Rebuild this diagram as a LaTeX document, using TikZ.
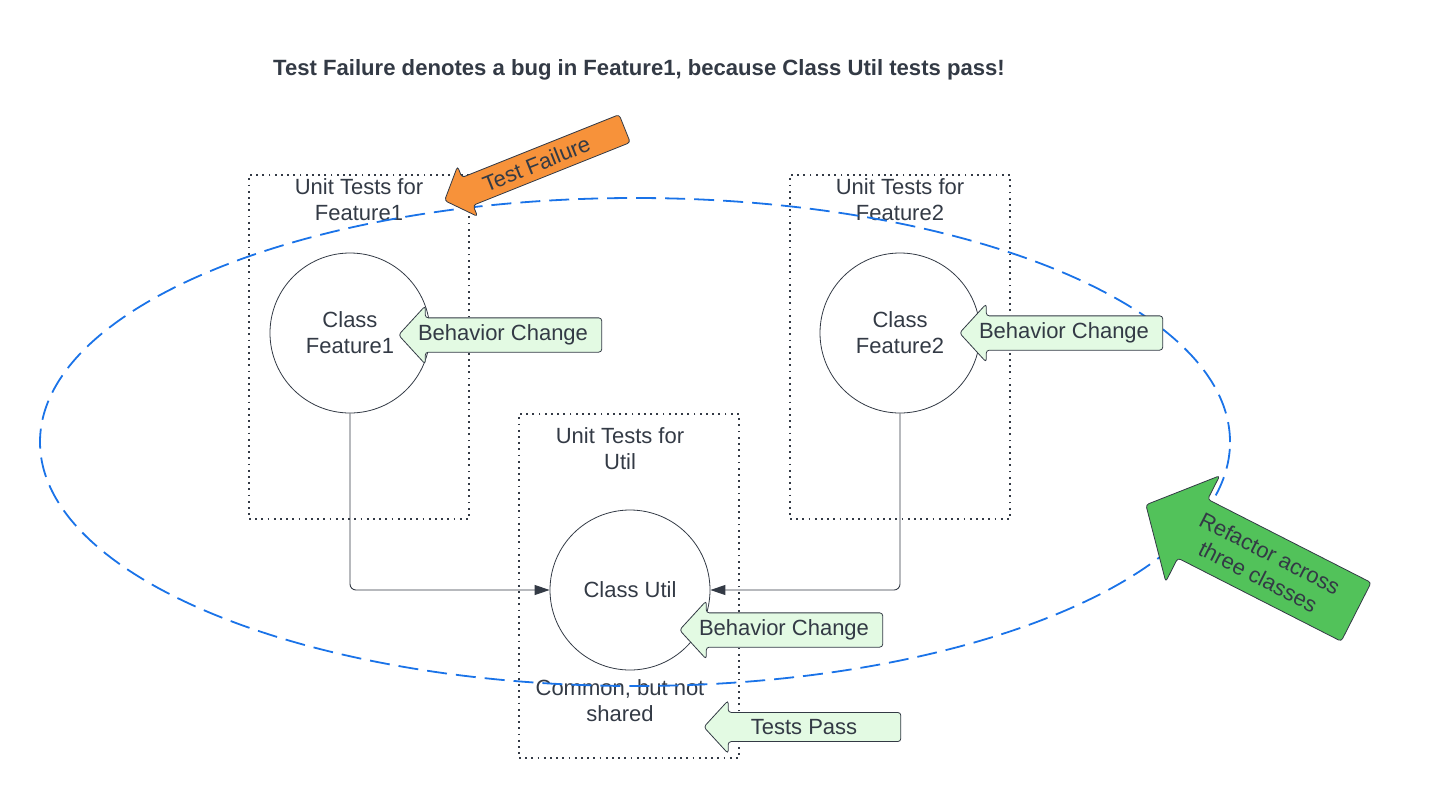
\documentclass[tikz,border=0pt]{standalone}
\usepackage{fontspec}
\setmainfont{Liberation Sans}
\usetikzlibrary{positioning, arrows.meta, shapes.arrows}

\definecolor{inkgray}{HTML}{333A45}
\definecolor{ringblue}{HTML}{1A73E8}
\definecolor{paleGreen}{HTML}{E3FAE3}
\definecolor{failOrange}{HTML}{F7923A}
\definecolor{refGreen}{HTML}{52C25A}

\begin{document}
\begin{tikzpicture}[
  x=1pt, y=-1pt,
  font=\fontsize{22}{26}\selectfont,
  text=inkgray,
  testbox/.style={draw=inkgray, line width=1.8pt, dash pattern=on 1.8pt off 4.4pt, minimum width=220pt, minimum height=344pt},
  classnode/.style={circle, draw=inkgray, line width=0.8pt, minimum size=160pt, inner sep=0pt, align=center},
  boxlabel/.style={align=center},
  link/.style={draw=inkgray, line width=0.9pt, rounded corners=6pt, -{Triangle[length=15pt, width=10pt]}},
  callout/.style={single arrow, shape border rotate=180, draw=inkgray, line width=0.8pt, rounded corners=3pt,
    single arrow head extend=12pt, single arrow tip angle=95, inner ysep=6.5pt, minimum height=197pt},
  ring/.style={draw=ringblue, line width=1.8pt, dash pattern=on 20pt off 9pt}
]
\useasboundingbox (0,0) rectangle (1439,801);

%--------------------------------------
% Title
%--------------------------------------
\node[font=\fontsize{22.1}{26}\selectfont\bfseries] (title) at (639,70) {Test Failure denotes a bug in Feature1, because Class Util tests pass!};

%--------------------------------------
% Unit test boxes
%--------------------------------------
\node[testbox] (box1) at (359,347) {};
\node[testbox] (box2) at (900,347) {};
\node[testbox] (box3) at (629,586) {};
\node[boxlabel, below=1pt of box1.north] (label1) {Unit Tests for\\Feature1};
\node[boxlabel, below=1pt of box2.north] (label2) {Unit Tests for\\Feature2};
\node[boxlabel, below=11pt of box3.north, xshift=-9pt] (label3) {Unit Tests for\\Util};

%--------------------------------------
% Classes
%--------------------------------------
\node[classnode] (feat1) at (350,333) {Class\\Feature1};
\node[classnode] (feat2) at (900,333) {Class\\Feature2};
\node[classnode] (util) at (630,590) {Class Util};
\node[boxlabel] (common) at (620,701) {Common, but not\\shared};

% Dependencies
\draw[link] (feat1.south) |- (util.west);
\draw[link] (feat2.south) |- (util.east);

%--------------------------------------
% Refactor scope
%--------------------------------------
\draw[ring] (635,442) ellipse [x radius=595pt, y radius=244pt];

%--------------------------------------
% Callouts (text padded on the tail side)
%--------------------------------------
\node[callout, fill=paleGreen] (change1) at (508,335) {Behavior Change\hspace*{10pt}};
\node[callout, fill=paleGreen] (change2) at (1069,333) {Behavior Change\hspace*{10pt}};
\node[callout, fill=paleGreen] (change3) at (789,630) {Behavior Change\hspace*{10pt}};
\node[callout, fill=paleGreen] (pass) at (809,727) {Tests Pass\hspace*{10pt}};
\node[callout, fill=failOrange, rotate=21.8, minimum height=194pt] (failure) at (541,162) {Test Failure\hspace*{10pt}};
\node[callout, fill=refGreen, rotate=-27, minimum height=236pt, inner ysep=11.5pt, align=center,
  single arrow head extend=26.5pt, single arrow tip angle=97] (refactor) at (1264,565) {Refactor across\\three classes};

\end{tikzpicture}
\end{document}
